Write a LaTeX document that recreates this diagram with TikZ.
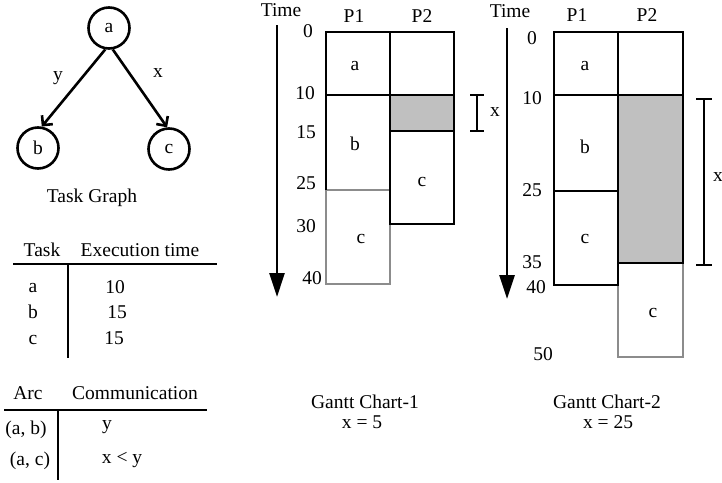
\documentclass[tikz,border=0pt]{standalone}
\usepackage{fontspec}
\setmainfont{Liberation Serif}
\usetikzlibrary{arrows.meta}
\newcommand\dfont{\fontsize{19.5}{22}\selectfont}
\definecolor{cellgray}{HTML}{C0C0C0}
\definecolor{ghostgray}{HTML}{8C8C8C}
\tikzset{
  lbl/.style={font=\dfont, inner sep=0pt, anchor=center},
  circ/.style={circle, draw, line width=2.6pt, minimum size=41pt, inner sep=0pt, font=\dfont},
  edge/.style={line width=2.6pt, -{Straight Barb[length=7pt,width=14pt]}},
  blk/.style={line width=2.8pt, line join=miter},
  ghostline/.style={line width=2.8pt, draw=ghostgray},
  timearrow/.style={line width=2.8pt, -{Triangle[length=24pt,width=15pt]}},
  rule/.style={line width=2.6pt},
  brk/.style={line width=2.6pt}
}
\begin{document}
\begin{tikzpicture}[x=1pt,y=-1pt]
\useasboundingbox (0,0) rectangle (722,482);
% ---------- Task graph ----------
\node[circ] (a) at (109,28) {a};
\node[circ] (b) at (38,148) {b};
\node[circ] (c) at (169,149) {c};
\draw[edge] (a.260) -- (b.80);
\draw[edge] (a.280) -- (c.95);
\node[lbl] (ly) at (58,78) {y};
\node[lbl] (lx) at (158,73) {x};
\node[lbl] (tg) at (92,198) {Task Graph};
% ---------- Task table ----------
\node[lbl] (th1) at (42,250) {Task};
\node[lbl] (th2) at (140,250) {Execution time};
\coordinate (t1l) at (13,264);
\coordinate (t1r) at (217,264);
\coordinate (t1t) at (68,264);
\coordinate (t1b) at (68,358);
\draw[rule] (t1l) -- (t1r);
\draw[rule] (t1t) -- (t1b);
\node[lbl] (ta) at (33,288) {a};
\node[lbl] (tb) at (33,312) {b};
\node[lbl] (tc) at (33,340) {c};
\node[lbl] (ea) at (115,287) {10};
\node[lbl] (eb) at (117,312) {15};
\node[lbl] (ec) at (114,338) {15};
% ---------- Arc table ----------
\node[lbl] (ah1) at (28,393) {Arc};
\node[lbl] (ah2) at (135,393) {Communication};
\coordinate (t2l) at (4,410);
\coordinate (t2r) at (207,410);
\coordinate (t2t) at (58,410);
\coordinate (t2b) at (58,480);
\draw[rule] (t2l) -- (t2r);
\draw[rule] (t2t) -- (t2b);
\node[lbl] (ab) at (26,430) {(a, b)};
\node[lbl] (cy) at (107,427) {y};
\node[lbl] (ac) at (30,461) {(a, c)};
\node[lbl] (cxy) at (122,460) {x < y};
% ---------- Gantt chart 1 ----------
\node[lbl] (time1) at (281,10) {Time};
\coordinate (ta1) at (277,25);
\coordinate (tb1) at (277,297);
\draw[timearrow] (ta1) -- (tb1);
\node[lbl] (p11) at (354,16) {P1};
\node[lbl] (p21) at (422,16) {P2};
\fill[cellgray] (390,95) rectangle (454,131);
\draw[ghostline] (326,190) rectangle (390,284);
\draw[blk] (326,190) -- (326,32) -- (454,32) -- (454,224) -- (390,224) -- (390,32);
\draw[blk] (326,95) -- (454,95);
\draw[blk] (390,131) -- (454,131);
\node[lbl] (n0a) at (308,31) {0};
\node[lbl] (n10a) at (305,93) {10};
\node[lbl] (n15a) at (306,132) {15};
\node[lbl] (n25a) at (306,183) {25};
\node[lbl] (n30a) at (306,226) {30};
\node[lbl] (n40a) at (312,278) {40};
\node[lbl] (ga) at (355,66) {a};
\node[lbl] (gb) at (355,144) {b};
\node[lbl] (gc) at (422,182) {c};
\node[lbl] (gcc) at (361,239) {c};
\coordinate (x1t) at (477,95);
\coordinate (x1b) at (477,131);
\draw[brk] (x1t) -- (x1b);
\draw[brk] ([xshift=-7pt]x1t) -- ([xshift=7pt]x1t);
\draw[brk] ([xshift=-7pt]x1b) -- ([xshift=7pt]x1b);
\node[lbl] (xl1) at (495,112) {x};
\node[lbl] (cap1a) at (365,402) {Gantt Chart-1};
\node[lbl] (cap1b) at (362,422) {x = 5};
% ---------- Gantt chart 2 ----------
\node[lbl] (time2) at (510,11) {Time};
\coordinate (ta2) at (507,28);
\coordinate (tb2) at (507,299);
\draw[timearrow] (ta2) -- (tb2);
\node[lbl] (p12) at (577,15) {P1};
\node[lbl] (p22) at (647,15) {P2};
\fill[cellgray] (618,95) rectangle (683,263);
\draw[ghostline] (618,263) -- (618,357) -- (683,357) -- (683,263);
\draw[blk] (554,32) rectangle (618,285);
\draw[blk] (618,32) -- (683,32) -- (683,263) -- (618,263);
\draw[blk] (554,95) -- (683,95);
\draw[blk] (554,191) -- (618,191);
\node[lbl] (n0b) at (532,38) {0};
\node[lbl] (n10b) at (532,98) {10};
\node[lbl] (n25b) at (532,190) {25};
\node[lbl] (n35b) at (532,262) {35};
\node[lbl] (n40b) at (536,287) {40};
\node[lbl] (n50b) at (543,354) {50};
\node[lbl] (ha) at (585,66) {a};
\node[lbl] (hb) at (585,147) {b};
\node[lbl] (hc) at (585,239) {c};
\node[lbl] (hcc) at (653,313) {c};
\coordinate (x2t) at (704,99);
\coordinate (x2b) at (704,265);
\draw[brk] (x2t) -- (x2b);
\draw[brk] ([xshift=-8pt]x2t) -- ([xshift=8pt]x2t);
\draw[brk] ([xshift=-8pt]x2b) -- ([xshift=8pt]x2b);
\node[lbl] (xl2) at (718,177) {x};
\node[lbl] (cap2a) at (607,402) {Gantt Chart-2};
\node[lbl] (cap2b) at (608,422) {x = 25};
\end{tikzpicture}
\end{document}
